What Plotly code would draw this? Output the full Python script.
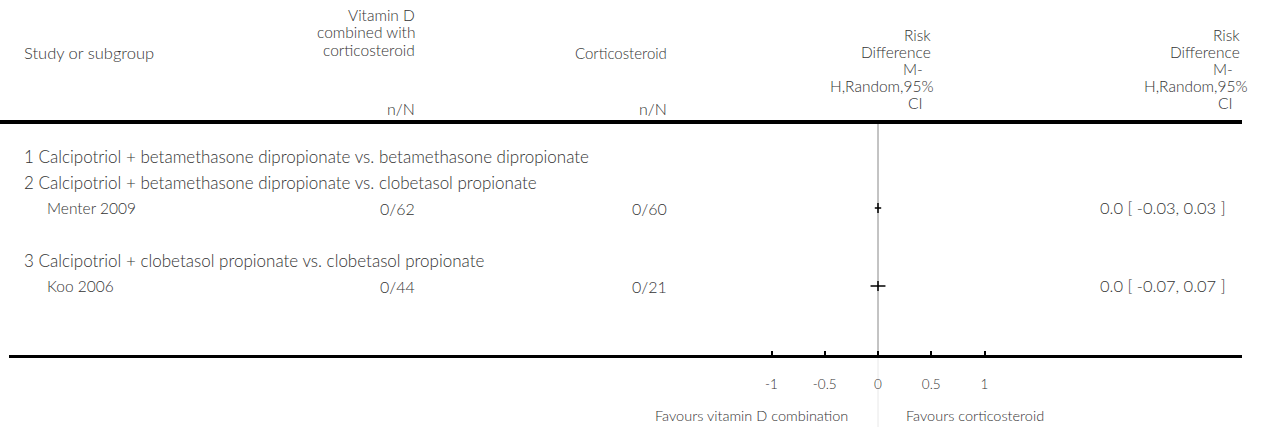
import plotly.graph_objects as go

W, H = 1265, 427

# ---------------- data ----------------
group_labels = [
    "1 Calcipotriol + betamethasone dipropionate vs. betamethasone dipropionate",
    "2 Calcipotriol + betamethasone dipropionate vs. clobetasol propionate",
    "3 Calcipotriol + clobetasol propionate vs. clobetasol propionate",
]
group_rows = [0, 1, 4]
studies = ["Menter 2009", "Koo 2006"]
study_rows = [2, 5]
treat_nN = ["0/62", "0/44"]
ctrl_nN = ["0/60", "0/21"]
rd_est = [0.0, 0.0]
rd_lo = [-0.03, -0.07]
rd_hi = [0.03, 0.07]
rd_text = ["0.0 [ -0.03, 0.03 ]", "0.0 [ -0.07, 0.07 ]"]
tick_vals = [-1, -0.5, 0, 0.5, 1]
tick_text = ["-1", "-0.5", "0", "0.5", "1"]
favours_left = "Favours vitamin D combination"
favours_right = "Favours corticosteroid"

# ---------------- layout helpers ----------------
FONT = "Lato"
TXT = "#333333"
FS = 16
px_zero, px_per_unit = 878, 106.5
x_range = [-px_zero / px_per_unit, (W - px_zero) / px_per_unit]
axis_px = 356
row0_px, row_h = 156, 26
y_range = [(axis_px - row0_px) / row_h, -row0_px / row_h]


def px(x):
    return x / W


def py(y):
    return 1 - y / H


fig = go.Figure()

# CI lines and point estimates
for s, r, e, lo, hi in zip(studies, study_rows, rd_est, rd_lo, rd_hi):
    fig.add_trace(go.Scatter(x=[lo, hi], y=[r, r], mode="lines",
                             line=dict(color="black", width=1.5),
                             hoverinfo="skip", showlegend=False))
    fig.add_trace(go.Scatter(x=[e], y=[r], mode="markers",
                             marker=dict(symbol="line-ns", size=7,
                                         line=dict(color="black", width=1.5)),
                             name=s, showlegend=False))

ann = []


def add(text, x, y, xanchor="left", yanchor="middle", xref="paper", yref="paper",
        size=FS, font=FONT, xshift=0, weight=300):
    ann.append(dict(text=text, x=x, y=y, xref=xref, yref=yref, xanchor=xanchor,
                    yanchor=yanchor, showarrow=False, xshift=xshift,
                    font=dict(family=font, size=size, color=TXT, weight=weight)))


# header
add("Study or subgroup", px(22), py(53), size=16.5)
for i, t in enumerate(["Vitamin D", "combined with", "corticosteroid"]):
    add(t, px(417), py(15 + 17.5 * i), xanchor="right", size=15.5)
add("n/N", px(417), py(108), xanchor="right")
add("Corticosteroid", px(669), py(53), xanchor="right", size=15)
add("n/N", px(669), py(108), xanchor="right")
rd_head = [("Risk", 933), ("Difference", 933), ("M-", 925), ("H,Random,95%", 936), ("CI", 925)]
for i, (t, xr) in enumerate(rd_head):
    add(t, px(xr), py(35 + 17 * i), xanchor="right", size=15.5)
rd_head2 = [("Risk", 1242), ("Difference", 1242), ("M-", 1235), ("H,Random,95%", 1250), ("CI", 1235)]
for i, (t, xr) in enumerate(rd_head2):
    add(t, px(xr), py(35 + 17 * i), xanchor="right", size=15.5)

# rows
for g, r in zip(group_labels, group_rows):
    add(g, px(22), r, yref="y", size=17)
for s, r, a, b, t in zip(studies, study_rows, treat_nN, ctrl_nN, rd_text):
    add(s, px(45), r, yref="y", size=15.5)
    add(a, px(417), r, yref="y", xanchor="right")
    add(b, px(669), r, yref="y", xanchor="right")
    add(t, px(1228), r, yref="y", xanchor="right", size=16.5)

# favours
add(favours_left, 0, py(415), xref="x", xanchor="right", xshift=-28, size=14.5)
add(favours_right, 0, py(415), xref="x", xanchor="left", xshift=26, size=14.5)

shapes = [
    dict(type="line", xref="paper", yref="paper", x0=0, x1=px(1242), y0=py(122), y1=py(122),
         line=dict(color="black", width=4)),
    dict(type="line", xref="paper", yref="paper", x0=px(9), x1=px(1242), y0=py(356.5), y1=py(356.5),
         line=dict(color="black", width=3)),
    dict(type="line", xref="x", yref="paper", x0=0, x1=0, y0=py(356), y1=py(122),
         line=dict(color="#888888", width=1), layer="below"),
    dict(type="line", xref="x", yref="paper", x0=0, x1=0, y0=0, y1=py(358),
         line=dict(color="#e8e8e8", width=1), layer="below"),
]

fig.update_layout(
    width=W, height=H,
    margin=dict(l=0, r=0, t=0, b=0),
    paper_bgcolor="white", plot_bgcolor="white",
    showlegend=False,
    annotations=ann, shapes=shapes,
    xaxis=dict(range=x_range, tickvals=tick_vals, ticktext=tick_text,
               ticks="inside", ticklen=5, tickwidth=2, tickcolor="black",
               showgrid=False, zeroline=False, showline=False,
               tickfont=dict(family=FONT, size=13.5, color=TXT, weight=300),
               ticklabelstandoff=18, fixedrange=True),
    yaxis=dict(range=y_range, domain=[1 - axis_px / H, 1], visible=False,
               showgrid=False, zeroline=False, fixedrange=True),
)

fig.write_html("out.html", config={"displayModeBar": False},
               post_script="document.body.style.margin='0px';")
